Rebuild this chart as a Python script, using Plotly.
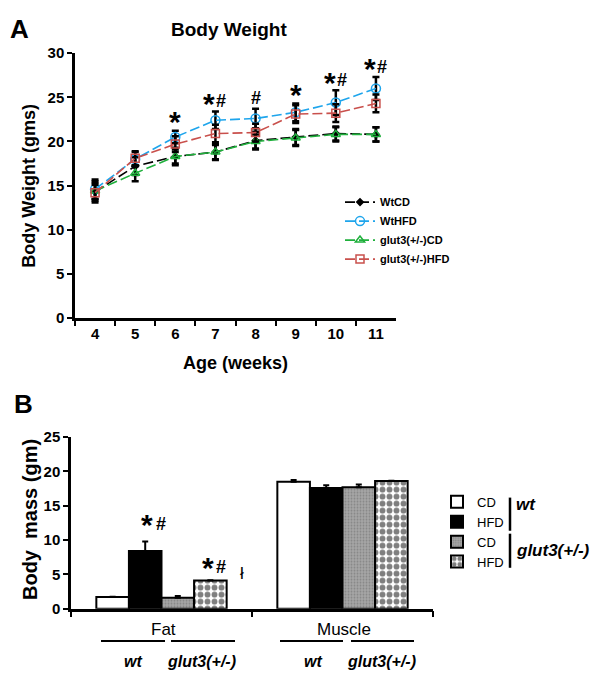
import plotly.graph_objects as go

# ---- panel A: body weight over age ----
weeks = ["4", "5", "6", "7", "8", "9", "10", "11"]
wt_cd = [14.3, 17.2, 18.3, 18.8, 20.1, 20.5, 20.9, 20.8]
wt_cd_err = [1.2, 1.0, 1.0, 0.9, 1.0, 0.9, 0.8, 0.8]
wt_hfd = [14.6, 18.0, 20.5, 22.4, 22.6, 23.3, 24.4, 26.0]
wt_hfd_err = [1.1, 0.8, 0.7, 1.0, 1.1, 1.0, 1.4, 1.3]
g3_cd = [14.4, 16.4, 18.3, 18.8, 20.0, 20.4, 20.8, 20.8]
g3_cd_err = [0.9, 0.9, 0.8, 0.8, 0.8, 0.9, 0.8, 0.8]
g3_hfd = [14.2, 18.1, 19.7, 20.9, 21.0, 23.1, 23.2, 24.3]
g3_hfd_err = [0.9, 0.8, 0.9, 1.0, 1.0, 1.0, 1.0, 1.0]

sig_weeks = ["6", "7", "8", "9", "10", "11"]
sig_marks = ["*", "*#", "#", "*", "*#", "*#"]

# ---- panel B: body mass ----
tissues = ["Fat", "Muscle"]
b_wt_cd = [1.7, 18.5]
b_wt_cd_err = [0.05, 0.25]
b_wt_hfd = [8.4, 17.6]
b_wt_hfd_err = [1.4, 0.4]
b_g3_cd = [1.6, 17.7]
b_g3_cd_err = [0.25, 0.4]
b_g3_hfd = [4.1, 18.6]
b_g3_hfd_err = [0.05, 0.05]

W, H = 600, 676
FONT = "Liberation Sans, Arial"


def px(x):
    return x / W


def py(y):
    return 1 - y / H


fig = go.Figure()

dash = "10px,4px"
lines = [
    ("WtCD", wt_cd, wt_cd_err, "black", "diamond", 5),
    ("WtHFD", wt_hfd, wt_hfd_err, "#1ea5ec", "circle-open", 9),
    ("glut3(+/-)CD", g3_cd, g3_cd_err, "#1fb03c", "triangle-up-open", 8),
    ("glut3(+/-)HFD", g3_hfd, g3_hfd_err, "#c9504c", "square-open", 8),
]
for name, vals, err, col, sym, size in lines:
    fig.add_trace(go.Scatter(
        x=weeks, y=vals, name=name, mode="lines+markers",
        line=dict(color=col, width=1.6, dash=dash),
        marker=dict(symbol=sym, size=size, color=col, line=dict(color=col, width=1.5)),
        error_y=dict(type="data", array=err, color="black", thickness=2.5, width=3.5),
        xaxis="x", yaxis="y", legend="legend",
    ))

bars = [
    ("CD", b_wt_cd, b_wt_cd_err, dict(color="white")),
    ("HFD", b_wt_hfd, b_wt_hfd_err, dict(color="black")),
    ("CD", b_g3_cd, b_g3_cd_err, dict(color="#a6a6a6",
                                      pattern=dict(shape=".", fgcolor="#666666", size=3, solidity=0.3))),
    ("HFD", b_g3_hfd, b_g3_hfd_err, dict(color="white",
                                        pattern=dict(shape=".", fgcolor="black", bgcolor="white", size=7, solidity=0.55))),
]
for name, vals, err, mk in bars:
    mk = dict(mk, line=dict(color="black", width=2))
    fig.add_trace(go.Bar(
        x=tissues, y=vals, name=name, marker=mk,
        error_y=dict(type="data", array=err, arrayminus=[0, 0], symmetric=False,
                     color="black", thickness=2, width=3),
        xaxis="x2", yaxis="y2", legend="legend2",
    ))

ann = []


def mark(x, y, ch, xref, yref, xshift, yshift):
    size = 30 if ch == "*" else 18
    dy = -2 if ch == "*" else 0
    return dict(x=x, y=y, xref=xref, yref=yref, text="<b>%s</b>" % ch, showarrow=False,
                xanchor="center", yanchor="middle", xshift=xshift, yshift=yshift + dy,
                font=dict(family=FONT, size=size, color="black"))


# significance marks for panel A, above the WtHFD error bars
for wk, m in zip(sig_weeks, sig_marks):
    i = weeks.index(wk)
    top = wt_hfd[i] + wt_hfd_err[i]
    if len(m) == 1:
        ann.append(mark(i, top, m, "x", "y", 0, 11))
    else:
        ann.append(mark(i, top, m[0], "x", "y", -6, 10))
        ann.append(mark(i, top, m[1], "x", "y", 6, 10))

# significance marks for panel B (Fat group)
top = b_wt_hfd[0] + b_wt_hfd_err[0]
ann.append(mark(0, top, "*", "x2", "y2", -15, 19))
ann.append(mark(0, top, "#", "x2", "y2", -1, 17))
top = b_g3_hfd[0] + b_g3_hfd_err[0]
ann.append(mark(0, top, "*", "x2", "y2", 46, 15))
ann.append(mark(0, top, "#", "x2", "y2", 59, 13))
ann.append(dict(x=0, y=top, xref="x2", yref="y2", text="ł", showarrow=False, xanchor="center",
                yanchor="middle", xshift=80, yshift=7, font=dict(family=FONT, size=17, color="black")))

# panel letters, titles
ann += [
    dict(x=px(0), y=py(12), xref="paper", yref="paper", text="<b>A</b>", showarrow=False,
         xanchor="left", yanchor="middle", font=dict(family=FONT, size=26, color="black")),
    dict(x=px(4), y=py(397), xref="paper", yref="paper", text="<b>B</b>", showarrow=False,
         xanchor="left", yanchor="middle", font=dict(family=FONT, size=26, color="black")),
    dict(x=px(221), y=py(13), xref="paper", yref="paper", text="<b>Body Weight</b>", showarrow=False,
         xanchor="center", yanchor="middle", font=dict(family=FONT, size=19, color="black")),
    dict(x=px(21), y=py(173), xref="paper", yref="paper", text="<b>Body Weight (gms)</b>", showarrow=False,
         textangle=-90, xanchor="center", yanchor="middle", font=dict(family=FONT, size=18, color="black")),
    dict(x=px(227), y=py(355), xref="paper", yref="paper", text="<b>Age (weeks)</b>", showarrow=False,
         xanchor="center", yanchor="middle", font=dict(family=FONT, size=18, color="black")),
    dict(x=px(22), y=py(516), xref="paper", yref="paper", text="<b>Body  mass (gm)</b>", showarrow=False,
         textangle=-90, xanchor="center", yanchor="middle", font=dict(family=FONT, size=20, color="black")),
]

# group labels under panel B
for label, cx in [("Fat", 155), ("Muscle", 336)]:
    ann.append(dict(x=px(cx), y=py(628), xref="paper", yref="paper", text=label, showarrow=False,
                    xanchor="center", yanchor="middle", font=dict(family=FONT, size=17, color="black")))
for label, cx in [("wt", 125), ("glut3(+/-)", 194), ("wt", 305), ("glut3(+/-)", 373)]:
    ann.append(dict(x=px(cx), y=py(661), xref="paper", yref="paper", text="<b><i>%s</i></b>" % label,
                    showarrow=False, xanchor="center", yanchor="middle",
                    font=dict(family=FONT, size=16, color="black")))
for label, cy in [("wt", 500), ("glut3(+/-)", 547)]:
    ann.append(dict(x=px(506), y=py(cy), xref="paper", yref="paper", text="<b><i>%s</i></b>" % label,
                    showarrow=False, xanchor="left", yanchor="middle",
                    font=dict(family=FONT, size=17, color="black")))

shapes = []
for x0, x1 in [(93, 157), (163, 227), (272, 335), (343, 406)]:
    shapes.append(dict(type="line", xref="paper", yref="paper", x0=px(x0), x1=px(x1), y0=py(640), y1=py(640),
                       line=dict(color="black", width=2)))
for y0, y1 in [(493, 527), (530, 565)]:
    shapes.append(dict(type="line", xref="paper", yref="paper", x0=px(502), x1=px(502), y0=py(y0), y1=py(y1),
                       line=dict(color="black", width=2.5)))

axis_common = dict(showline=True, linecolor="black", linewidth=2.5, ticks="outside", ticklen=5,
                   tickwidth=2, tickcolor="black", showgrid=False, zeroline=False)

fig.update_layout(
    width=W, height=H,
    margin=dict(l=0, r=0, t=0, b=0),
    paper_bgcolor="white", plot_bgcolor="white",
    font=dict(family=FONT, color="black"),
    barmode="group", bargap=0.28, bargroupgap=0,
    xaxis=dict(axis_common, domain=[px(67), px(388)], type="category", tickson="boundaries",
               range=[-0.5, 7.5], anchor="y",
               tickfont=dict(family=FONT, size=15, weight="bold")),
    yaxis=dict(axis_common, domain=[py(309), py(37)], range=[0, 30], dtick=5, anchor="x",
               tickfont=dict(family=FONT, size=15, weight="bold")),
    xaxis2=dict(axis_common, domain=[px(63), px(425)], type="category", tickson="boundaries",
                range=[-0.5, 1.5], anchor="y2", showticklabels=False, ticklen=6),
    yaxis2=dict(axis_common, domain=[py(607), py(431)], range=[0, 25], dtick=5, anchor="x2",
                tickfont=dict(family=FONT, size=15, weight="bold")),
    legend=dict(x=px(332), y=py(175), xanchor="left", yanchor="top", bgcolor="rgba(0,0,0,0)",
                font=dict(family=FONT, size=11, weight="bold"), tracegroupgap=0, itemwidth=30),
    legend2=dict(x=px(429), y=py(482), xanchor="left", yanchor="top", bgcolor="rgba(0,0,0,0)",
                 font=dict(family=FONT, size=13), tracegroupgap=0, itemwidth=30),
    annotations=ann,
    shapes=shapes,
)

fig.write_html("out.html")
